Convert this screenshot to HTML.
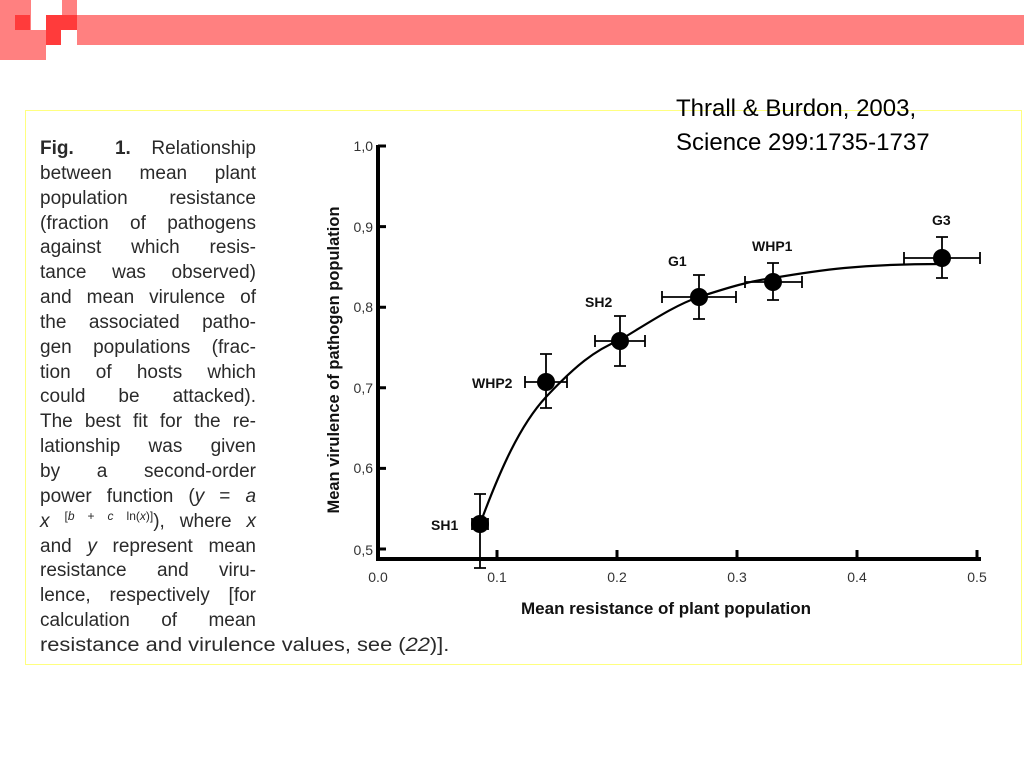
<!DOCTYPE html>
<html><head><meta charset="utf-8"><style>
html,body{margin:0;padding:0;background:#fff;width:1024px;height:768px;overflow:hidden;position:relative;font-family:"Liberation Sans",sans-serif}
.b{position:absolute}
.cap{position:absolute;left:40px;top:137px;width:216px;font-size:19px;color:#2a2a2a;line-height:24.85px}
.cap div{text-align:justify;text-align-last:justify;white-space:nowrap;height:24.85px;overflow:visible}
sup{line-height:0;vertical-align:7px;font-size:12px}
</style></head><body>
<div class="b" style="left:77px;top:15px;width:947px;height:30px;background:#ff8080"></div>
<div class="b" style="left:0;top:0;width:31px;height:60px;background:#ff8080"></div>
<div class="b" style="left:62px;top:0;width:15px;height:15px;background:#ff8080"></div>
<div class="b" style="left:31px;top:30px;width:15px;height:30px;background:#ff8080"></div>
<div class="b" style="left:15px;top:15px;width:15px;height:15px;background:#ff3b3b"></div>
<div class="b" style="left:46px;top:15px;width:31px;height:15px;background:#ff3b3b"></div>
<div class="b" style="left:46px;top:30px;width:15px;height:15px;background:#ff3b3b"></div>
<div class="b" style="left:25px;top:110px;width:997px;height:555px;border:1px solid #ffff80;box-sizing:border-box"></div>
<div class="b" style="left:676px;top:92px;font-size:24px;line-height:34px;color:#000">Thrall &amp; Burdon, 2003,<br>Science 299:1735-1737</div>
<div class="cap">
<div><b>Fig.&nbsp;&nbsp;1.</b> Relationship</div>
<div>between mean plant</div>
<div>population resistance</div>
<div>(fraction of pathogens</div>
<div>against which resis-</div>
<div>tance was observed)</div>
<div>and mean virulence of</div>
<div>the associated patho-</div>
<div>gen populations (frac-</div>
<div>tion of hosts which</div>
<div>could be attacked).</div>
<div>The best fit for the re-</div>
<div>lationship was given</div>
<div>by a second-order</div>
<div>power function (<i>y</i> = <i>a</i></div>
<div><i>x</i> <sup>[<i>b</i>&nbsp;+&nbsp;<i>c</i>&nbsp;ln(<i>x</i>)]</sup>), where <i>x</i></div>
<div>and <i>y</i> represent mean</div>
<div>resistance and viru-</div>
<div>lence, respectively [for</div>
<div>calculation of mean</div>
<div style="text-align:left;text-align-last:left;transform:scaleX(1.15);transform-origin:0 0">resistance and virulence values, see (<i>22</i>)].</div>
</div>
<svg class="b" style="left:0;top:0" width="1024" height="768" font-family="Liberation Sans, sans-serif">
<g stroke="#000" fill="none">
<path d="M378 145 V560 M376 559 H981" stroke-width="4"/>
<path d="M378 146h8M378 226.6h8M378 307.2h8M378 387.8h8M378 468.4h8M378 549h8" stroke-width="3"/>
<path d="M497 559v-9M617 559v-9M737 559v-9M857 559v-9M977 559v-9" stroke-width="3"/>
<path d="M480 524 C500 470,520 425,546 397 C575 366,595 350,620 340 C650 322,675 305,699 297 C730 287,750 281,773 278 C820 270,860 264,942 264" stroke-width="2.2"/>
<g stroke-width="1.8">
<path d="M480 494V568M474 494h12M474 568h12M472 524h16M472 518v12M488 518v12"/>
<path d="M546 354V408M540 354h12M540 408h12M525 382h42M525 376v12M567 376v12"/>
<path d="M620 316V366M614 316h12M614 366h12M595 341h50M595 335v12M645 335v12"/>
<path d="M699 275V319M693 275h12M693 319h12M662 297h74M662 291v12M736 291v12"/>
<path d="M773 263V300M767 263h12M767 300h12M745 282h57M745 276v12M802 276v12"/>
<path d="M942 237V278M936 237h12M936 278h12M904 258h76M904 252v12M980 252v12"/>
</g></g>
<g fill="#000">
<circle cx="480" cy="524" r="9"/><circle cx="546" cy="382" r="9"/><circle cx="620" cy="341" r="9"/>
<circle cx="699" cy="297" r="9"/><circle cx="773" cy="282" r="9"/><circle cx="942" cy="258" r="9"/>
</g>
<g font-weight="bold" font-size="14" fill="#111">
<text x="431" y="530">SH1</text><text x="472" y="388">WHP2</text><text x="585" y="307">SH2</text>
<text x="668" y="266">G1</text><text x="752" y="251">WHP1</text><text x="932" y="225">G3</text>
</g>
<g font-size="14" fill="#333" text-anchor="end">
<text x="373" y="151">1,0</text><text x="373" y="232">0,9</text><text x="373" y="312">0,8</text>
<text x="373" y="393">0,7</text><text x="373" y="473">0,6</text><text x="373" y="555">0,5</text>
</g>
<g font-size="14" fill="#333" text-anchor="middle">
<text x="378" y="582">0.0</text><text x="497" y="582">0.1</text><text x="617" y="582">0.2</text>
<text x="737" y="582">0.3</text><text x="857" y="582">0.4</text><text x="977" y="582">0.5</text>
</g>
<text x="666" y="614" font-size="17" font-weight="bold" text-anchor="middle" fill="#111">Mean resistance of plant population</text>
<text transform="translate(339,360) rotate(-90)" font-size="16.5" font-weight="bold" text-anchor="middle" fill="#111">Mean virulence of pathogen population</text>
</svg>
</body></html>
